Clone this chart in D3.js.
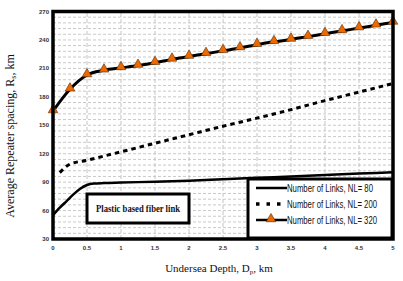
<!DOCTYPE html>
<html><head><meta charset="utf-8">
<script src="https://cdn.jsdelivr.net/npm/d3@7"></script>
<style>html,body{margin:0;padding:0;background:#fff;}svg{display:block;}</style>
</head><body>
<svg id="c" width="403" height="281"></svg>
<script>
// ---- data ----
const xTicks = [0,0.5,1,1.5,2,2.5,3,3.5,4,4.5,5];
const xTickLabels = ["0","0.5","1","1.5","2","2.5","3","3.5","4","4.5","5"];
const yTicks = [30,60,90,120,150,180,210,240,270];
const nl80X = [0,0.1,0.2,0.3,0.4,0.5,0.6,0.75,1,1.5,2,2.5,3,3.5,4,4.5,5];
const nl80Y = [55,63,70,77,83,87,88.5,89,89.5,90.5,91.5,93,94.5,96,97.5,99,100.5];
const nl200X = [0.1,0.25,0.5,0.75,1,1.5,2,2.5,3,3.5,4,4.5,5];
const nl200Y = [100,109,113,117.5,122,131,140,149,157.5,166.5,176,185,194];
const nl320X = [0,0.25,0.5,0.75,1,1.25,1.5,1.75,2,2.25,2.5,2.75,3,3.25,3.5,3.75,4,4.25,4.5,4.75,5];
const nl320Y = [165,188,203,208,210.5,213,216,219.5,222.5,225.5,228.5,231.5,235,238,240.5,243.5,246.5,249.5,252.5,255.5,258.5];
const legendLabels = ["Number of Links, NL= 80","Number of Links, NL= 200","Number of Links, NL= 320"];
const xLabel = ["Undersea Depth, D","p",", km"];
const yLabel = ["Average Repeater spacing, R","s",", km"];
const noteText = "Plastic based fiber link";

const svg = d3.select("#c");
const x = d3.scaleLinear().domain([0,5]).range([53,393]);
const y = d3.scaleLinear().domain([30,270]).range([239,11.5]);

// grid
const g = svg.append("g");
g.selectAll("line.h").data(d3.range(36,270,6)).enter().append("line")
  .attr("x1",x(0)).attr("x2",x(5)).attr("y1",d=>y(d)).attr("y2",d=>y(d))
  .attr("stroke","#c9c9c9").attr("stroke-width",1).attr("stroke-dasharray","3,2");
g.selectAll("line.v").data(xTicks.slice(1,-1)).enter().append("line")
  .attr("x1",d=>x(d)).attr("x2",d=>x(d)).attr("y1",y(30)).attr("y2",y(270))
  .attr("stroke","#c4c4c4").attr("stroke-width",1).attr("stroke-dasharray","4,2");

const line = d3.line().x(d=>x(d[0])).y(d=>y(d[1])).curve(d3.curveMonotoneX);
const zip = (a,b)=>a.map((v,i)=>[v,b[i]]);

// NL=80
svg.append("path").attr("d",line(zip(nl80X,nl80Y))).attr("fill","none")
  .attr("stroke","#000").attr("stroke-width",2.5);
// NL=200
svg.append("path").attr("d",line(zip(nl200X,nl200Y))).attr("fill","none")
  .attr("stroke","#000").attr("stroke-width",3).attr("stroke-dasharray","4.5,4");
// NL=320
svg.append("path").attr("d",line(zip(nl320X,nl320Y))).attr("fill","none")
  .attr("stroke","#000").attr("stroke-width",3);
const tri = d3.symbol().type(d3.symbolTriangle).size(40);
svg.selectAll("path.tri").data(zip(nl320X,nl320Y)).enter().append("path")
  .attr("d",tri).attr("transform",d=>`translate(${x(d[0])},${y(d[1])-1})`)
  .attr("fill","#ec6a00").attr("stroke","#5a2a00").attr("stroke-width",0.6);

// frame
svg.append("rect").attr("x",x(0)).attr("y",y(270)).attr("width",x(5)-x(0)).attr("height",y(30)-y(270))
  .attr("fill","none").attr("stroke","#000").attr("stroke-width",3.5);

// tick labels
svg.selectAll("text.xt").data(xTicks).enter().append("text")
  .attr("x",d=>x(d)).attr("y",250).attr("text-anchor","middle")
  .attr("font-family","Liberation Sans").attr("font-size",6).attr("font-weight","bold").attr("fill","#333")
  .text((d,i)=>xTickLabels[i]);
svg.selectAll("text.yt").data(yTicks).enter().append("text")
  .attr("x",49).attr("y",d=>y(d)+2).attr("text-anchor","end")
  .attr("font-family","Liberation Sans").attr("font-size",6).attr("font-weight","bold").attr("fill","#333")
  .text(d=>d);

// axis titles
const xt = svg.append("text").attr("x",219).attr("y",272).attr("text-anchor","middle")
  .attr("font-family","Liberation Serif").attr("font-size",11).attr("fill","#111");
xt.append("tspan").text(xLabel[0]);
xt.append("tspan").attr("font-size",7).attr("dy",2).text(xLabel[1]);
xt.append("tspan").attr("dy",-2).text(xLabel[2]);
const yt = svg.append("text").attr("transform","translate(14,136) rotate(-90)").attr("text-anchor","middle")
  .attr("font-family","Liberation Serif").attr("font-size",12).attr("fill","#111");
yt.append("tspan").text(yLabel[0]);
yt.append("tspan").attr("font-size",8).attr("dy",2).text(yLabel[1]);
yt.append("tspan").attr("dy",-2).text(yLabel[2]);

// note box
svg.append("rect").attr("x",87).attr("y",194).attr("width",102).attr("height",29)
  .attr("fill","#fff").attr("stroke","#000").attr("stroke-width",3);
svg.append("text").attr("x",138).attr("y",212).attr("text-anchor","middle")
  .attr("font-family","Liberation Serif").attr("font-weight","bold").attr("font-size",10)
  .attr("textLength",84).attr("lengthAdjust","spacingAndGlyphs").attr("fill","#111").text(noteText);

// legend
svg.append("rect").attr("x",248).attr("y",179).attr("width",144).attr("height",59)
  .attr("fill","#fff").attr("stroke","#000").attr("stroke-width",3);
const ly = [188,204,220];
const lg = svg.selectAll("g.lg").data(legendLabels).enter().append("g");
lg.append("line").attr("x1",256).attr("x2",287).attr("y1",(d,i)=>ly[i]).attr("y2",(d,i)=>ly[i])
  .attr("stroke","#000").attr("stroke-width",(d,i)=>i===1?3.5:2.5)
  .attr("stroke-dasharray",(d,i)=>i===1?"3.5,7":null);
lg.append("text").attr("x",287).attr("y",(d,i)=>ly[i]+3.5)
  .attr("font-family","Liberation Sans").attr("font-size",10).attr("fill","#111")
  .attr("textLength",(d,i)=>i===0?86:90).attr("lengthAdjust","spacingAndGlyphs").text(d=>d);
svg.append("path").attr("d",tri).attr("transform",`translate(271,${ly[2]-1})`)
  .attr("fill","#ec6a00").attr("stroke","#5a2a00").attr("stroke-width",0.6);
</script>
</body></html>
